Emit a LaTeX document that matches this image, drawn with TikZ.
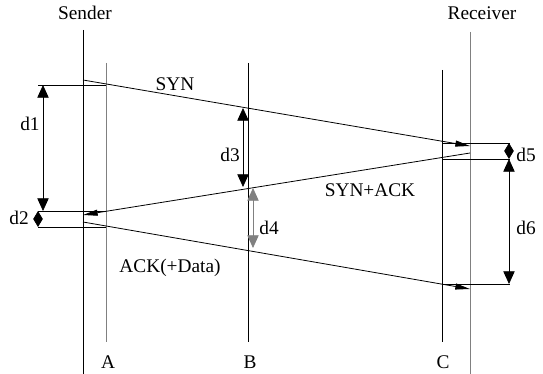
\documentclass[tikz,border=0pt]{standalone}
\usepackage{fontspec}
\setmainfont{Liberation Serif}
\usetikzlibrary{arrows.meta}

\tikzset{
  lbl/.style={inner sep=0.75pt, font=\fontsize{14.5}{17}\selectfont},
  msg/.style={line width=0.6, -{Triangle[length=11pt,width=4.5pt]}},
  span/.style={line width=0.6, {Triangle[length=9.5pt,width=8.5pt]}-{Triangle[length=9.5pt,width=8.5pt]}},
  short span/.style={line width=0.6, {Triangle[length=6pt,width=7pt]}-{Triangle[length=6pt,width=7pt]}},
  host/.style={line width=0.6},
}

\begin{document}
\begin{tikzpicture}[x=0.75pt,y=0.75pt,yscale=-1,xscale=1]
\useasboundingbox (0,0) rectangle (543,374);

% end hosts and observation points
\coordinate (sndT) at (83,30);  \coordinate (sndB) at (83,374);
\coordinate (rcvT) at (470,32); \coordinate (rcvB) at (470,374);
\coordinate (aT) at (106,63);   \coordinate (aB) at (106,342);
\coordinate (bT) at (248,63);   \coordinate (bB) at (248,342);
\coordinate (cT) at (442,70);   \coordinate (cB) at (442,342);

\draw [host] (sndT) -- (sndB) ;
\draw [host, color=gray] (rcvT) -- (rcvB) ;
\draw [host, color=gray] (aT) -- (aB) ;
\draw [host] (bT) -- (bB) ;
\draw [host] (cT) -- (cB) ;

\node [lbl] (sender) at (85,13) {Sender};
\node [lbl] (receiver) at (482,13) {Receiver};
\node [lbl] (ptA) at (108,362) {A};
\node [lbl] (ptB) at (250,362) {B};
\node [lbl] (ptC) at (443,362) {C};

% handshake
\coordinate (synS) at (83,80);   \coordinate (synR) at (470,146);
\coordinate (sakR) at (470,153); \coordinate (sakS) at (83,215);
\coordinate (ackS) at (83,222);  \coordinate (ackR) at (470,289);

\draw [msg] (synS) -- (synR) ;
\draw [msg] (sakR) -- (sakS) ;
\draw [msg] (ackS) -- (ackR) ;

\node [lbl] (syn) at (175,84) {SYN};
\node [lbl] (synack) at (370,190) {SYN+ACK};
\node [lbl] (ack) at (170,268) {ACK(+Data)};

% crossing marks at A and C
\coordinate (synA) at (106,85);  \coordinate (synAl) at (38,85);
\coordinate (sakA) at (106,211); \coordinate (sakAl) at (38,211);
\coordinate (ackA) at (106,227); \coordinate (ackAl) at (38,227);
\coordinate (synC) at (442,143); \coordinate (synCr) at (510,143);
\coordinate (sakC) at (442,159); \coordinate (sakCr) at (510,159);
\coordinate (ackC) at (442,284); \coordinate (ackCr) at (510,284);

\draw [line width=0.6] (synA) -- (synAl) ;
\draw [line width=0.6] (sakA) -- (sakAl) ;
\draw [line width=0.6] (ackA) -- (ackAl) ;
\draw [line width=0.6] (synC) -- (synCr) ;
\draw [line width=0.6] (sakC) -- (sakCr) ;
\draw [line width=0.6] (ackC) -- (ackCr) ;

% delays
\draw [span] (43,85) -- (43,211) ;
\draw [short span] (38,211) -- (38,227) ;
\draw [span] (243,108) -- (243,187) ;
\draw [span, color=gray] (253,188) -- (253,248) ;
\draw [short span] (509,143) -- (509,159) ;
\draw [span] (509,159) -- (509,284) ;

\node [lbl] (d1) at (30,124) {d1};
\node [lbl] (d2) at (19,218) {d2};
\node [lbl] (d3) at (230,155) {d3};
\node [lbl] (d4) at (269,228) {d4};
\node [lbl] (d5) at (526,155) {d5};
\node [lbl] (d6) at (526,228) {d6};

\end{tikzpicture}
\end{document}
